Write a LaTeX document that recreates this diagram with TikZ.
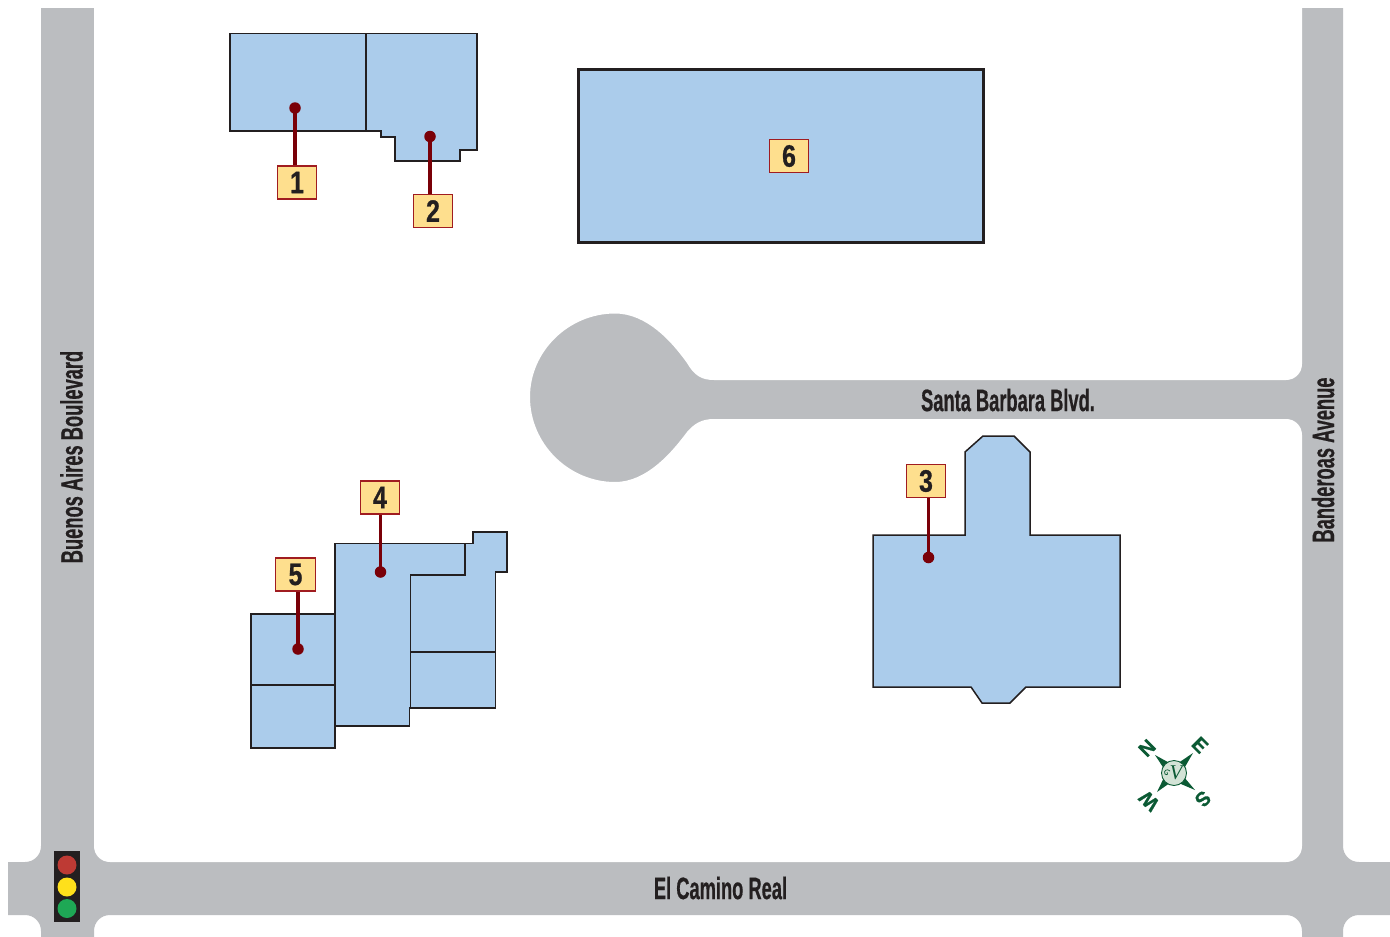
\documentclass[tikz,border=0pt]{standalone}
\usepackage{fontspec}
\setmainfont{Liberation Sans}
\newfontfamily\roadfont[FakeStretch=0.59,FakeBold=0.5]{Liberation Sans Bold}
\newfontfamily\numfont[FakeStretch=0.8,FakeBold=0.8]{Liberation Sans Bold}
\newfontfamily\compfont[FakeBold=0.8]{Liberation Sans Bold}
\newfontfamily\vfont{Liberation Serif Italic}
\definecolor{roadgrey}{HTML}{BBBDC0}
\definecolor{bldblue}{HTML}{ABCCEB}
\definecolor{inkblack}{HTML}{231F20}
\definecolor{tagfill}{HTML}{FEDF8E}
\definecolor{tagedge}{HTML}{A01C20}
\definecolor{leadred}{HTML}{7A0008}
\definecolor{compgreen}{HTML}{0B5A34}
\definecolor{compfill}{HTML}{D3E3D6}
\tikzset{
  road/.style={fill=roadgrey,draw=none},
  bld/.style={fill=bldblue,draw=inkblack,line width=1.5pt,line join=miter},
  divider/.style={draw=inkblack,line width=1.4pt},
  tag/.style={draw=tagedge,fill=tagfill,line width=1.1pt,minimum width=39.5pt,minimum height=33pt,inner sep=0pt,
    text=inkblack,font=\numfont\fontsize{31}{34}\selectfont},
  pin/.style={circle,fill=leadred,draw=none,minimum size=11.5pt,inner sep=0pt},
  lead/.style={draw=leadred,line width=3.2pt},
  roadlabel/.style={text=inkblack,inner sep=0pt,font=\roadfont\fontsize{31}{34}\selectfont},
  lamp/.style={circle,draw=none,minimum size=19pt,inner sep=0pt},
  completter/.style={text=compgreen,inner sep=0pt,font=\compfont\fontsize{20}{22}\selectfont},
  comppoint/.style={fill=compgreen,draw=none},
}
\begin{document}
\begin{tikzpicture}[x=1pt,y=-1pt]
\useasboundingbox (0,0) rectangle (1390,937);
\fill[white] (0,0) rectangle (1390,937);
% road network, outer outline
\fill[road] (41,8) -- (41,846) .. controls (41,855) and (34,862) .. (25,862) -- (8,862) -- (8,915) -- (25,915)
  .. controls (34,915) and (41,922) .. (41,931) -- (41,937) -- (94,937) -- (94,931)
  .. controls (94,922) and (101,915) .. (110,915) -- (1286,915)
  .. controls (1295,915) and (1302,922) .. (1302,931) -- (1302,937) -- (1343,937) -- (1343,931)
  .. controls (1343,922) and (1350,915) .. (1359,915) -- (1390,915) -- (1390,862) -- (1359,862)
  .. controls (1350,862) and (1343,855) .. (1343,846) -- (1343,8) -- cycle;
% white block inside the roads, leaving the cul-de-sac
\fill[white] (94,8) -- (94,846) .. controls (94,855) and (101,862) .. (110,862) -- (1286,862)
  .. controls (1295,862) and (1302,855) .. (1302,846) -- (1302,435)
  .. controls (1302,426) and (1295,419) .. (1286,419) -- (714,419)
  .. controls (701,419) and (694,424) .. (687,432)
  .. controls (672,452) and (647,482) .. (615,482)
  .. controls (569,482) and (530,444) .. (530,397)
  .. controls (530,351) and (569,313.5) .. (615,313.5)
  .. controls (647,313.5) and (672,342) .. (687,363)
  .. controls (694,375) and (701,380) .. (714,380) -- (1286,380)
  .. controls (1295,380) and (1302,373) .. (1302,364) -- (1302,8) -- cycle;
% buildings
\draw[bld] (230,33.5) rectangle (366,131);
\draw[bld] (366,33.5) -- (477,33.5) -- (477,150) -- (460,150) -- (460,161) -- (395,161) -- (395,137) -- (381,137) -- (381,131) -- (366,131) -- cycle;
\draw[bld,line width=3pt] (578,69) rectangle (983.5,242);
\draw[bld] (251,614) rectangle (335,748);
\draw[divider] (251,685) -- (335,685);
\draw[bld] (335,543.5) -- (465,543.5) -- (465,575) -- (410.5,575) -- (410.5,708) -- (409.5,708) -- (409.5,726) -- (335,726) -- cycle;
\draw[bld] (465,543.5) -- (473,543.5) -- (473,532) -- (507,532) -- (507,572) -- (495.5,572) -- (495.5,708) -- (410.5,708) -- (410.5,575) -- (465,575) -- cycle;
\draw[divider] (410.5,652) -- (495.5,652);
\draw[bld] (873,535) -- (965,535) -- (965,452) -- (983,436) -- (1014,436) -- (1030,452) -- (1030,535) -- (1120,535) -- (1120,687) -- (1026,687) -- (1010,703) -- (982,703) -- (971,687) -- (873,687) -- cycle;
% tags and pins
\node[tag] (t1) at (297,182.5) {1};
\node[tag] (t2) at (433,211) {2};
\node[tag] (t3) at (926,481) {3};
\node[tag] (t4) at (380,497.5) {4};
\node[tag] (t5) at (295.5,574.5) {5};
\node[tag] (t6) at (789,156) {6};
\node[pin] (p1) at (295,108) {};
\node[pin] (p2) at (430,136.5) {};
\node[pin] (p3) at (928.5,557.5) {};
\node[pin] (p4) at (380.5,572) {};
\node[pin] (p5) at (298,649) {};
\draw[lead] (p1.center) -- (p1.center |- t1.north);
\draw[lead] (p2.center) -- (p2.center |- t2.north);
\draw[lead] (p3.center) -- (p3.center |- t3.south);
\draw[lead] (p4.center) -- (p4.center |- t4.south);
\draw[lead] (p5.center) -- (p5.center |- t5.south);
% road labels
\node[roadlabel,rotate=90] (rb) at (71.5,457) {Buenos Aires Boulevard};
\node[roadlabel,rotate=90] (rv) at (1323,460) {Banderoas Avenue};
\node[roadlabel] (rs) at (1008,400) {Santa Barbara Blvd.};
\node[roadlabel] (re) at (720.5,888) {El Camino Real};
% traffic light
\fill[inkblack] (54,851) rectangle (80,922);
\node[lamp,fill={rgb,255:red,190;green,58;blue,52}] (lr) at (67,865) {};
\node[lamp,fill={rgb,255:red,255;green,224;blue,27}] (ly) at (67,887) {};
\node[lamp,fill={rgb,255:red,30;green,168;blue,85}] (lg) at (67,908.5) {};
% compass
\fill[comppoint] (1155,755) -- (1170.5,763.5) -- (1164.5,769.5) -- cycle;
\fill[comppoint] (1193,753) -- (1183.5,769.5) -- (1177.5,763.5) -- cycle;
\fill[comppoint] (1157,792) -- (1164.5,776.5) -- (1170.5,782.5) -- cycle;
\fill[comppoint] (1195,790) -- (1177.5,782.5) -- (1183.5,776.5) -- cycle;
\node[circle,draw=compgreen,fill=compfill,line width=0.9pt,minimum size=25pt,inner sep=0pt] (cc) at (1174,773) {};
\node[text=compgreen,inner sep=0pt,font=\vfont\fontsize{21}{22}\selectfont] (cv) at (1176,773) {V};
\draw[compgreen,line width=0.7pt] (1170,771) .. controls (1167,768) and (1163,771) .. (1165,774) .. controls (1167,776) and (1169,773) .. (1167,772);
\node[completter,rotate=45] (cn) at (1147,748) {N};
\node[completter,rotate=-45] (ce) at (1200,745) {E};
\node[completter,rotate=-135] (cs) at (1203,799) {S};
\node[completter,rotate=135] (cw) at (1149,801) {W};
\end{tikzpicture}
\end{document}
